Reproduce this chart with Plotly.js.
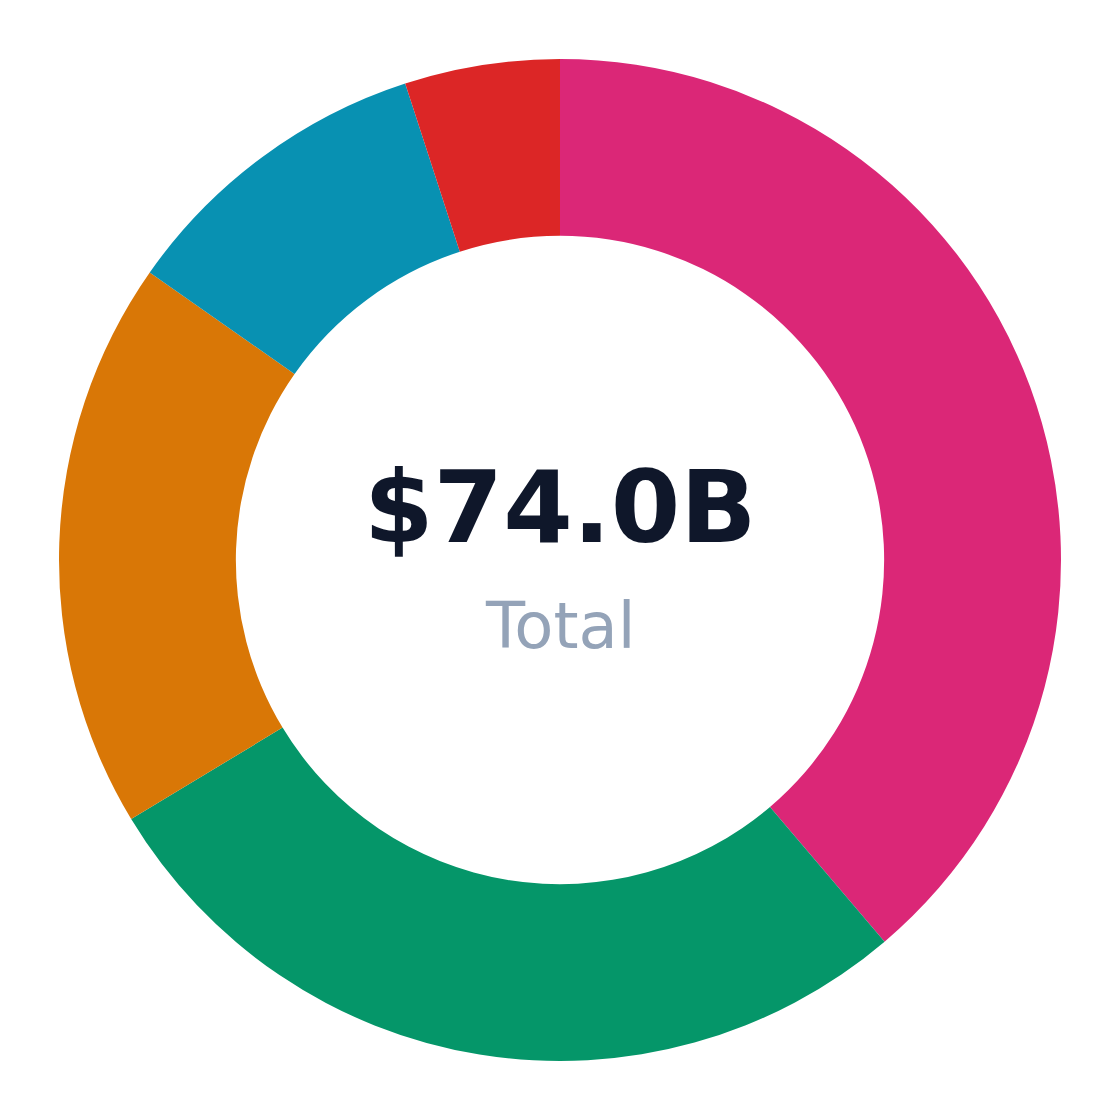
<!DOCTYPE html>
<html>
<head>
<meta charset="utf-8">
<script src="https://cdn.plot.ly/plotly-3.0.1.min.js"></script>
<style>html,body{margin:0;padding:0;background:#fff;}#chart{width:1120px;height:1120px;}</style>
</head>
<body>
<div id="chart"></div>
<script>
const categories = ["Segment A", "Segment B", "Segment C", "Segment D", "Segment E"];
const values = [28.7, 20.4, 13.6, 7.6, 3.7];
const colors = ["#db2777", "#059669", "#d97706", "#0891b2", "#dc2626"];
const centerValue = "$74.0B";
const centerLabel = "Total";

const trace = {
  type: "pie",
  labels: categories,
  values: values,
  sort: false,
  direction: "clockwise",
  rotation: 0,
  hole: 0.647,
  marker: { colors: colors, line: { width: 0 } },
  textinfo: "none",
  hoverinfo: "label+value",
  showlegend: false,
  domain: { x: [59/1120, 1061/1120], y: [59/1120, 1061/1120] }
};

const layout = {
  width: 1120,
  height: 1120,
  margin: { l: 0, r: 0, t: 0, b: 0 },
  paper_bgcolor: "#ffffff",
  plot_bgcolor: "#ffffff",
  showlegend: false,
  annotations: [
    { text: "<b>" + centerValue + "</b>", x: 0.5, y: 1 - 508/1120, xref: "paper", yref: "paper",
      xanchor: "center", yanchor: "middle", showarrow: false,
      font: { family: "DejaVu Sans", size: 100, color: "#0f172a" } },
    { text: centerLabel, x: 0.5, y: 1 - 625.5/1120, xref: "paper", yref: "paper",
      xanchor: "center", yanchor: "middle", showarrow: false,
      font: { family: "DejaVu Sans", size: 64, color: "#94a3b8" } }
  ]
};

Plotly.newPlot("chart", [trace], layout, { displayModeBar: false, staticPlot: true });
</script>
</body>
</html>
